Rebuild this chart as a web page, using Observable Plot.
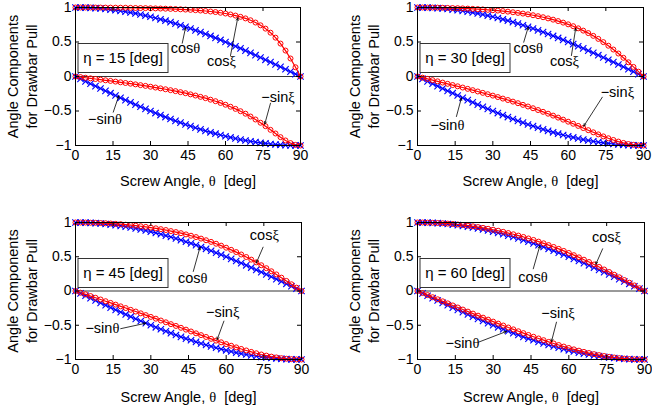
<!DOCTYPE html>
<html><head><meta charset="utf-8">
<script src="https://cdn.jsdelivr.net/npm/d3@7"></script>
<script src="https://cdn.jsdelivr.net/npm/@observablehq/plot@0.6"></script>
<style>
body{margin:0;background:#fff;}
#wrap{position:relative;width:652px;height:407px;overflow:hidden;background:#fff;}
#wrap svg{position:absolute;}
</style></head><body><div id="wrap"></div>
<script>
// Screw angle θ (deg)
const theta = [0,2,4,6,8,10,12,14,16,18,20,22,24,26,28,30,32,34,36,38,40,42,44,46,48,50,52,54,56,58,60,62,64,66,68,70,72,74,76,78,80,82,84,86,88,90];
const cosTheta = [1.000,0.999,0.998,0.995,0.990,0.985,0.978,0.970,0.961,0.951,0.940,0.927,0.914,0.899,0.883,0.866,0.848,0.829,0.809,0.788,0.766,0.743,0.719,0.695,0.669,0.643,0.616,0.588,0.559,0.530,0.500,0.469,0.438,0.407,0.375,0.342,0.309,0.276,0.242,0.208,0.174,0.139,0.105,0.070,0.035,0.000];
const sinTheta = [0.000,0.035,0.070,0.105,0.139,0.174,0.208,0.242,0.276,0.309,0.342,0.375,0.407,0.438,0.469,0.500,0.530,0.559,0.588,0.616,0.643,0.669,0.695,0.719,0.743,0.766,0.788,0.809,0.829,0.848,0.866,0.883,0.899,0.914,0.927,0.940,0.951,0.961,0.970,0.978,0.985,0.990,0.995,0.998,0.999,1.000];

const cosXi15 = [1.000,1.000,1.000,1.000,0.999,0.999,0.998,0.998,0.997,0.997,0.996,0.995,0.993,0.992,0.991,0.989,0.987,0.985,0.983,0.980,0.977,0.974,0.970,0.966,0.961,0.956,0.949,0.942,0.934,0.924,0.913,0.899,0.883,0.865,0.842,0.815,0.782,0.742,0.694,0.635,0.563,0.477,0.376,0.261,0.134,0.000];
const sinXi15 = [0.000,0.009,0.018,0.027,0.036,0.046,0.055,0.064,0.074,0.084,0.094,0.104,0.114,0.125,0.136,0.148,0.160,0.172,0.185,0.198,0.212,0.227,0.242,0.259,0.276,0.295,0.314,0.336,0.358,0.383,0.409,0.438,0.469,0.503,0.539,0.580,0.623,0.670,0.720,0.773,0.826,0.879,0.927,0.965,0.991,1.000];
const cosXi30 = [1.000,1.000,0.999,0.999,0.998,0.996,0.994,0.992,0.990,0.987,0.984,0.980,0.976,0.972,0.966,0.961,0.955,0.948,0.940,0.931,0.922,0.912,0.901,0.888,0.874,0.859,0.842,0.824,0.803,0.781,0.756,0.729,0.698,0.665,0.629,0.589,0.545,0.498,0.446,0.391,0.333,0.271,0.206,0.139,0.070,0.000];
const sinXi30 = [0.000,0.017,0.035,0.053,0.070,0.088,0.106,0.124,0.142,0.160,0.179,0.198,0.217,0.237,0.257,0.277,0.298,0.320,0.341,0.364,0.387,0.411,0.435,0.460,0.486,0.512,0.539,0.567,0.596,0.625,0.655,0.685,0.716,0.747,0.778,0.809,0.839,0.868,0.895,0.920,0.943,0.963,0.979,0.990,0.998,1.000];
const cosXi45 = [1.000,1.000,0.999,0.997,0.995,0.992,0.989,0.985,0.980,0.975,0.968,0.962,0.954,0.945,0.936,0.926,0.915,0.903,0.890,0.875,0.860,0.844,0.826,0.807,0.787,0.765,0.741,0.717,0.690,0.662,0.632,0.601,0.568,0.533,0.496,0.458,0.418,0.376,0.333,0.288,0.242,0.195,0.147,0.098,0.049,0.000];
const sinXi45 = [0.000,0.025,0.049,0.074,0.099,0.124,0.149,0.174,0.199,0.224,0.249,0.275,0.300,0.326,0.352,0.378,0.404,0.431,0.457,0.484,0.510,0.537,0.564,0.591,0.618,0.644,0.671,0.698,0.724,0.749,0.775,0.799,0.823,0.846,0.868,0.889,0.909,0.927,0.943,0.958,0.970,0.981,0.989,0.995,0.999,1.000];
const cosXi60 = [1.000,1.000,0.998,0.996,0.993,0.989,0.984,0.978,0.971,0.963,0.954,0.944,0.933,0.921,0.908,0.894,0.880,0.864,0.846,0.828,0.809,0.789,0.767,0.745,0.721,0.696,0.670,0.643,0.615,0.585,0.555,0.523,0.491,0.457,0.423,0.387,0.351,0.314,0.277,0.238,0.200,0.160,0.121,0.081,0.040,0.000];
const sinXi60 = [0.000,0.030,0.060,0.091,0.121,0.151,0.181,0.211,0.241,0.271,0.301,0.330,0.360,0.389,0.418,0.447,0.476,0.504,0.533,0.560,0.588,0.615,0.642,0.668,0.693,0.718,0.743,0.766,0.789,0.811,0.832,0.852,0.871,0.889,0.906,0.922,0.936,0.949,0.961,0.971,0.980,0.987,0.993,0.997,0.999,1.000];

const xTicks = [0,15,30,45,60,75,90];
const yTicks = [-1,-0.5,0,0.5,1];
const annLabels = ["cosθ","cosξ","−sinξ","−sinθ"];
// annotation label centres [θ, value] and arrows [θ1, v1, θ2, v2] in data units, in annLabels order
const annText15 = [[44,0.413],[58.4,0.217],[81,-0.304],[11.8,-0.616]];
const annArrow15 = [[42.7,0.483,44,0.706],[62,0.304,64.9,0.85],[78,-0.387,75.7,-0.69],[15.1,-0.517,17.3,-0.28]];
const annText30 = [[44.1,0.413],[58.5,0.217],[79.6,-0.227],[11.9,-0.71]];
const annArrow30 = [[42.3,0.497,44.1,0.715],[61.3,0.304,63,0.70],[73.6,-0.30,66.2,-0.72],[15.5,-0.58,17.5,-0.31]];
const annText45 = [[46.7,0.18],[75.2,0.81],[58.6,-0.31],[10.7,-0.54]];
const annArrow45 = [[46.9,0.285,49.6,0.64],[74.7,0.64,72,0.41],[59.1,-0.44,56.4,-0.71],[18,-0.55,28,-0.47]];
const annText60 = [[45.8,0.197],[74.9,0.785],[55.7,-0.328],[17.8,-0.77]];
const annArrow60 = [[45.9,0.324,48.5,0.66],[73.4,0.616,70.7,0.39],[55.1,-0.455,53.1,-0.74],[24.2,-0.747,35.3,-0.59]];

const panels = [
  {eta:15, cosXi:cosXi15, sinXi:sinXi15, txt:annText15, arr:annArrow15, left:0,   top:0,   w:326, h:200, ml:75, mr:26, mt:7,  mb:55, xlab:36},
  {eta:30, cosXi:cosXi30, sinXi:sinXi30, txt:annText30, arr:annArrow30, left:326, top:0,   w:326, h:200, ml:91, mr:9,  mt:7,  mb:55, xlab:36},
  {eta:45, cosXi:cosXi45, sinXi:sinXi45, txt:annText45, arr:annArrow45, left:0,   top:200, w:326, h:207, ml:75, mr:25, mt:22, mb:48, xlab:38},
  {eta:60, cosXi:cosXi60, sinXi:sinXi60, txt:annText60, arr:annArrow60, left:326, top:200, w:326, h:207, ml:91, mr:8,  mt:22, mb:48, xlab:38}
];

const FONT = "'Liberation Sans', Arial, Helvetica, sans-serif";
const GREEK_FONT = "'Liberation Serif', 'DejaVu Serif', serif";
const BLUE = "#0000ff", RED = "#ff0000";
const fmt = d => d < 0 ? "\u2212" + (-d) : String(d);
const wrap = document.getElementById("wrap");

for (const cfg of panels) {
  const innerW = cfg.w - cfg.ml - cfg.mr;
  const innerH = cfg.h - cfg.mt - cfg.mb;
  const rows = theta.map((t, i) => ({t, c: cosTheta[i], s: -sinTheta[i], cx: cfg.cosXi[i], sx: -cfg.sinXi[i]}));
  const anns = annLabels.map((label, i) => ({label, x: cfg.txt[i][0], y: cfg.txt[i][1]}));
  const arrows = cfg.arr.map(a => ({x1: a[0], y1: a[1], x2: a[2], y2: a[3]}));
  const svg = Plot.plot({
    width: cfg.w, height: cfg.h,
    marginLeft: cfg.ml, marginRight: cfg.mr, marginTop: cfg.mt, marginBottom: cfg.mb,
    style: {fontFamily: FONT, fontSize: "14px", color: "#000", background: "#fff", overflow: "visible"},
    x: {domain: [0, 90]},
    y: {domain: [-1, 1]},
    marks: [
      Plot.ruleY([0], {stroke: "#000", strokeWidth: 0.8}),
      Plot.line(rows, {x: "t", y: "c", stroke: BLUE, strokeWidth: 1.2}),
      Plot.dot(rows, {x: "t", y: "c", symbol: "times", r: 3, stroke: BLUE, strokeWidth: 1.1}),
      Plot.line(rows, {x: "t", y: "s", stroke: BLUE, strokeWidth: 1.2}),
      Plot.dot(rows, {x: "t", y: "s", symbol: "times", r: 3, stroke: BLUE, strokeWidth: 1.1}),
      Plot.line(rows, {x: "t", y: "cx", stroke: RED, strokeWidth: 1.2}),
      Plot.dot(rows, {x: "t", y: "cx", symbol: "circle", r: 2.5, stroke: RED, strokeWidth: 1}),
      Plot.line(rows, {x: "t", y: "sx", stroke: RED, strokeWidth: 1.2}),
      Plot.dot(rows, {x: "t", y: "sx", symbol: "circle", r: 2.5, stroke: RED, strokeWidth: 1}),
      Plot.frame({stroke: "#000", strokeWidth: 1}),
      Plot.tickX(xTicks, {x: d => d, insetTop: innerH - 4, stroke: "#000"}),
      Plot.tickX(xTicks, {x: d => d, insetBottom: innerH - 4, stroke: "#000"}),
      Plot.tickY(yTicks, {y: d => d, insetRight: innerW - 4, stroke: "#000"}),
      Plot.tickY(yTicks, {y: d => d, insetLeft: innerW - 4, stroke: "#000"}),
      Plot.axisX(xTicks, {tickSize: 0, tickPadding: 5, tickFormat: fmt, label: null, fontSize: 14}),
      Plot.axisY(yTicks, {tickSize: 0, tickPadding: 4, tickFormat: fmt, label: null, fontSize: 14}),
      Plot.text(["Screw Angle, θ\u00a0 [deg]"], {frameAnchor: "bottom", dy: cfg.xlab, lineAnchor: "middle", textAnchor: "middle", fontSize: 14.5, fill: "#000"}),
      Plot.text(["Angle Components"], {frameAnchor: "left", dx: -62, rotate: -90, lineAnchor: "middle", textAnchor: "middle", fontSize: 14.5, fill: "#000"}),
      Plot.text(["for Drawbar Pull"], {frameAnchor: "left", dx: -43, rotate: -90, lineAnchor: "middle", textAnchor: "middle", fontSize: 14.5, fill: "#000"}),
      Plot.arrow(arrows, {x1: "x1", y1: "y1", x2: "x2", y2: "y2", stroke: "#000", strokeWidth: 0.8, headLength: 5, headAngle: 45}),
      Plot.text(anns, {x: "x", y: "y", text: "label", fontSize: 14.5, fill: "#000"})
    ]
  });
  svg.style.left = cfg.left + "px";
  svg.style.top = cfg.top + "px";
  wrap.appendChild(svg);
  // η legend box
  const g = d3.select(svg).append("g");
  const bx = cfg.ml + 3, by = cfg.mt + 36.5;
  g.append("rect").attr("x", bx).attr("y", by).attr("width", 90).attr("height", 29)
    .attr("fill", "#fff").attr("stroke", "#333").attr("stroke-width", 1);
  g.append("text").attr("x", bx + 45).attr("y", by + 14.5).attr("dy", "0.36em")
    .attr("text-anchor", "middle").attr("font-family", FONT).attr("font-size", 15).attr("fill", "#000")
    .text(`η = ${cfg.eta} [deg]`);
  // Greek letters θ, ξ in a serif (symbol-like) face, as in the original
  d3.select(svg).selectAll("text").each(function () {
    const s = this.textContent;
    if (!/[θξ]/.test(s) || this.querySelector("tspan")) return;
    this.textContent = "";
    for (const part of s.split(/([θξ])/)) {
      if (!part) continue;
      const t = document.createElementNS("http://www.w3.org/2000/svg", "tspan");
      if (/[θξ]/.test(part)) t.setAttribute("font-family", GREEK_FONT);
      t.textContent = part;
      this.appendChild(t);
    }
  });
}
</script>
</body></html>
